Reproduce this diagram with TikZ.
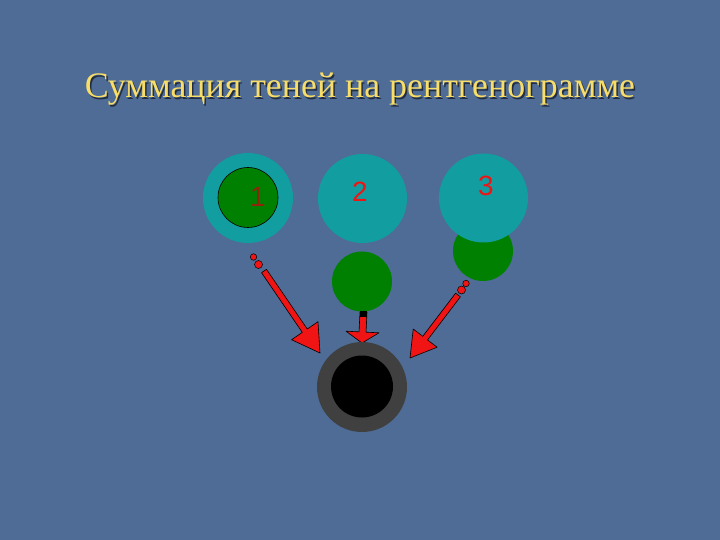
\documentclass[tikz,border=0pt]{standalone}
\usepackage{fontspec}
\setmainfont{Liberation Serif}
\newfontfamily\labfont{Liberation Sans}
\usetikzlibrary{calc}
\definecolor{bgblue}{RGB}{78,108,150}
\definecolor{tealc}{RGB}{18,158,160}
\definecolor{greenc}{RGB}{0,128,0}
\definecolor{darkg}{RGB}{64,64,64}
\definecolor{titlec}{RGB}{248,222,105}
\definecolor{shadowc}{RGB}{35,45,65}
\definecolor{redc}{RGB}{240,20,20}
\tikzset{
  disc/.style={circle, inner sep=0pt, minimum size=#1},
  numlab/.style={font=\labfont\fontsize{28}{28}\selectfont, text=redc, inner sep=0pt},
  arrowbody/.style={fill=redc, draw=black, line width=0.6bp, line join=round},
  dotmark/.style={circle, fill=redc, draw=black, line width=0.5bp, inner sep=0pt, minimum size=#1},
}
\newcommand{\redarrow}[5]{% start, tip, head length, head half width, shaft half width
  \path let \p1=($(#2)!#3!(#1)$) in coordinate (hb) at (\p1);
  \draw[arrowbody] ($(#1)!#5!90:(#2)$) -- ($(hb)!#5!90:(#2)$) -- ($(hb)!#4!90:(#2)$) -- (#2)
    -- ($(hb)!#4!-90:(#2)$) -- ($(hb)!#5!-90:(#2)$) -- ($(#1)!#5!-90:(#2)$) -- cycle;
}
\begin{document}
\begin{tikzpicture}[x=1bp,y=-1bp]
\fill[bgblue] (0,0) rectangle (720,540);
\useasboundingbox (0,0) rectangle (720,540);
% title
\node[text=shadowc, font=\fontsize{36}{36}\selectfont, anchor=base] (titleshadow) at (361.5,99.5) {Суммация теней на рентгенограмме};
\node[text=titlec, font=\fontsize{36}{36}\selectfont, anchor=base] (title) at (360,98) {Суммация теней на рентгенограмме};
% object 1
\node[disc=90bp, fill=tealc] (t1) at (248,198) {};
\node[disc=60bp, fill=greenc, draw=black, line width=0.6bp] (g1) at (248,197.5) {};
\node[numlab, text=redc!75!black, opacity=0.8] (l1) at (258,197) {1};
% object 2
\node[disc=89bp, fill=tealc] (t2) at (362.5,198.5) {};
\node[numlab] (l2) at (360,192) {2};
\node[disc=60bp, fill=greenc] (g2) at (362,281.5) {};
% object 3
\node[disc=60bp, fill=greenc] (g3) at (483,251) {};
\node[disc=89bp, fill=tealc] (t3) at (483.5,198) {};
\node[numlab] (l3) at (486,186) {3};
% arrows
\coordinate (s1) at (264,271);
\coordinate (e1) at (320,353);
\coordinate (s2) at (363.5,312);
\coordinate (e2) at (362,343);
\coordinate (s3) at (458,295);
\coordinate (e3) at (410,358);
\redarrow{s1}{e1}{27bp}{16bp}{3bp}
\redarrow{s2}{e2}{11bp}{16.5bp}{3.5bp}
\redarrow{s3}{e3}{25bp}{15bp}{3bp}
\fill[black] (360,311) rectangle (367,317);
\node[dotmark=6.5bp] (d1a) at (253.5,257) {};
\node[dotmark=8bp] (d1b) at (258.5,264.5) {};
\node[dotmark=6.5bp] (d3a) at (466,283.5) {};
\node[dotmark=8bp] (d3b) at (461.5,290) {};
% result
\node[disc=90bp, fill=darkg] (r) at (362,387) {};
\node[disc=62bp, fill=black] (rin) at (362,386.5) {};
\end{tikzpicture}
\end{document}
